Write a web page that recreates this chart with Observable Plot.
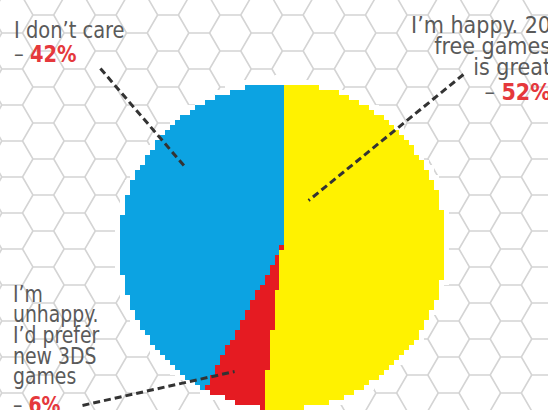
<!DOCTYPE html>
<html>
<head>
<meta charset="utf-8">
<script src="https://cdn.jsdelivr.net/npm/d3@7"></script>
<script src="https://cdn.jsdelivr.net/npm/@observablehq/plot@0.6"></script>
<style>
  html, body { margin: 0; padding: 0; background: #fff; }
  #wrap { position: relative; width: 548px; height: 410px; overflow: hidden; background: #fff; }
  #bg { position: absolute; left: -295px; top: -220px; width: 900px; height: 900px; transform: rotate(90deg); transform-origin: 450px 450px; }
  #chart { position: absolute; left: 0; top: 0; }
  .lab { position: absolute; font-family: "Liberation Sans Narrow", "Arial Narrow", "DejaVu Sans Condensed", sans-serif; font-size: 23px; color: #5a5a5a; white-space: nowrap; }
  .lab div { overflow: visible; }
  .pct { color: #e5383c; font-weight: bold; }
</style>
</head>
<body>
<div id="wrap">
  <div id="bg"></div>
  <div id="chart"></div>
</div>
<script>
// ---- data ----
const labels = ["I’m happy. 20 free games is great", "I’m unhappy. I’d prefer new 3DS games", "I don’t care"];
const values = [52, 6, 42];
const colors = ["#fff200", "#e51b22", "#0ca3e2"];
const pctLabels = ["52%", "6%", "42%"];
const labelLines = [["I’m happy. 20", "free games", "is great"], ["I’m", "unhappy.", "I’d prefer", "new 3DS", "games"], ["I don’t care"]];
// leader lines, in pie-radius units (centre = 0,0)
const leaderX1 = [1.11, -1.227, -1.117];
const leaderY1 = [1.055, -0.975, 1.092];
const leaderX2 = [0.16, -0.294, -0.595];
const leaderY2 = [0.282, -0.767, 0.485];

// ---- pie angles ----
const total = d3.sum(values);
const ends = d3.cumsum(values).map(v => v / total * 2 * Math.PI);

function sliceColor(x, y) {
  const r = Math.hypot(x, y);
  if (r > 1.035) return null;
  if (r > 1) return "#ffffff";
  let a = Math.atan2(x, y);
  if (a < 0) a += 2 * Math.PI;
  for (let i = 0; i < ends.length; ++i) if (a <= ends[i]) return colors[i];
  return colors[colors.length - 1];
}

const leaders = values.map((v, i) => ({x1: leaderX1[i], y1: leaderY1[i], x2: leaderX2[i], y2: leaderY2[i]}));

const R = 163, cx = 282, cy = 246, W = 548, H = 410;
const X0 = -cx / R, X1 = (W - cx) / R, Y0 = -(H - cy) / R, Y1 = cy / R;

const chart = Plot.plot({
  width: W, height: H, margin: 0,
  style: {background: "transparent"},
  x: {domain: [X0, X1], axis: null},
  y: {domain: [Y0, Y1], axis: null},
  color: {type: "identity"},
  marks: [
    Plot.raster({fill: sliceColor, x1: X0, x2: X1, y1: Y0, y2: Y1, pixelSize: 5, imageRendering: "pixelated"}),
    Plot.link(leaders, {x1: "x1", y1: "y1", x2: "x2", y2: "y2", stroke: "#333", strokeWidth: 3, strokeDasharray: "7,4"})
  ]
});
document.getElementById("chart").appendChild(chart);

const bg = Plot.plot({
  width: 900, height: 900, margin: 0,
  marks: [Plot.hexgrid({binWidth: 36, stroke: "#d4d4d4", strokeOpacity: 1, strokeWidth: 1.6})]
});
document.getElementById("bg").appendChild(bg);

// ---- labels ----
const wrap = document.getElementById("wrap");
function addLabel(i, pos, lh, pctLh, sx) {
  const d = document.createElement("div");
  d.className = "lab";
  Object.assign(d.style, pos);
  if (pos.right !== undefined) { d.style.textAlign = "right"; d.style.transformOrigin = "right top"; }
  else d.style.transformOrigin = "left top";
  d.style.transform = `scaleX(${sx})`;
  for (const line of labelLines[i]) {
    const l = document.createElement("div");
    l.style.height = l.style.lineHeight = lh + "px";
    l.textContent = line;
    d.appendChild(l);
  }
  const p = document.createElement("div");
  p.style.height = p.style.lineHeight = pctLh + "px";
  p.innerHTML = "– <span class='pct'>" + pctLabels[i] + "</span>";
  d.appendChild(p);
  wrap.appendChild(d);
}
addLabel(2, {left: "14px", top: "19px"}, 22, 26, 0.94);
addLabel(0, {right: "-3px", top: "14.5px"}, 21.3, 29.4, 1);
addLabel(1, {left: "13px", top: "283.7px"}, 20.7, 37, 0.91);
</script>
</body>
</html>
